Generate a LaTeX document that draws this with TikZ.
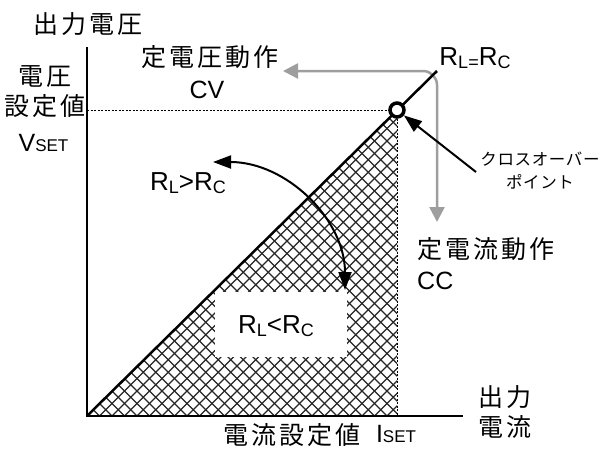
\documentclass[tikz,border=0pt]{standalone}
\usepackage{fontspec}
\setmainfont{Liberation Sans}
\newfontfamily\jpbig{Noto Sans CJK JP}[LetterSpace=12]
\newfontfamily\jpsmall{Noto Sans CJK JP}[LetterSpace=4]
\usetikzlibrary{arrows.meta}
\newcommand{\Rsb}[1]{R\raisebox{-3pt}{\fontsize{18}{18}\selectfont #1}}
\newcommand{\setlab}[1]{{\fontsize{25}{25}\selectfont #1}{\fontsize{17}{17}\selectfont SET}}
\begin{document}
\begin{tikzpicture}[x=1pt,y=-1pt,
  jpL/.style={font=\jpbig\fontsize{25}{30}\selectfont, inner sep=0pt, align=center},
  jpS/.style={font=\jpsmall\fontsize{16.5}{23}\selectfont, inner sep=0pt, align=center},
  lat/.style={font=\fontsize{25}{27}\selectfont, inner sep=0pt},
  latR/.style={font=\fontsize{26}{28}\selectfont, inner sep=0pt},
  hatch/.style={draw=black!85, line width=1.3pt},
  axis/.style={line width=2.5pt},
  guide/.style={line width=1pt, dash pattern=on 2pt off 1.5pt},
  graypath/.style={draw=black!38, line width=2.5pt, rounded corners=14pt, {Triangle[length=15pt,width=15pt]}-{Triangle[length=15pt,width=15pt]}},
  blk/.style={line width=2pt, -{Triangle[length=18pt,width=13pt]}},
  blk2/.style={line width=2pt, {Triangle[length=18pt,width=13pt]}-{Triangle[length=18pt,width=13pt]}}
]
\useasboundingbox (0,0) rectangle (599,448);
\coordinate (O) at (87,416);
\coordinate (Ytop) at (87,47);
\coordinate (Xend) at (463,416);
\coordinate (P) at (397,110);
\coordinate (Pbot) at (397,416);
\coordinate (Pleft) at (87,110);
\coordinate (Dtop) at (437,71);
\coordinate (CVtip) at (283,71);
\coordinate (CCtip) at (437,222);
\coordinate (ArcA) at (213,162);
\coordinate (ArcC) at (345,290);
\coordinate (Xs) at (476,172);
% hatch
\begin{scope}
\clip (O) -- (P) -- (Pbot) -- cycle;
\foreach \k in {-30,...,60} {
  \draw[hatch] (87+\k*12.5,416) -- ++(420,-420);
  \draw[hatch] (87+\k*12.5,416) -- ++(-420,-420);
}
\end{scope}
% white box
\node[fill=white, minimum width=132pt, minimum height=65pt, inner sep=0pt] (box) at (281,324.5) {};
\node[latR] (rlc) at (276,326) {\Rsb{L}<\Rsb{C}};
% guides
\draw[guide] (Pleft) -- (P) -- (Pbot);
% gray path
\draw[graypath] (CVtip) -| (CCtip);
% diagonal
\draw[line width=2.5pt] (O) -- (Dtop);
% axes
\draw[axis] (Ytop) -- (O) -- (Xend);
% crossover circle
\node[circle, draw=black, fill=white, line width=3.5pt, minimum size=14pt, inner sep=0pt] (cp) at (P) {};
% curved arrow
\draw[blk2] (ArcA) .. controls (286,162) and (345,219) .. (ArcC);
% labels
\node[jpL] (yl) at (88,24) {出力電圧};
\node[jpL] (cvj) at (210,57.5) {定電圧動作};
\node[lat] (cv) at (207,90) {CV};
\node[jpL] (vs) at (45,92) {電圧\\設定値};
\node[lat] (vset) at (43.5,142.5) {\setlab{V}};
\node[latR] (rgt) at (188,183) {\Rsb{L}>\Rsb{C}};
\node[latR] (req) at (475,58) {R\raisebox{-3pt}{\fontsize{18}{18}\selectfont L=}\Rsb{C}};
\node[jpS] (xo) at (540,171) {クロスオーバー\\ポイント};
\node[jpL, anchor=west] (ccj) at (417,249) {定電流動作};
\node[lat, anchor=west] (cc) at (417,281) {CC};
\node[jpL] (isj) at (292,435) {電流設定値};
\node[lat] (iset) at (396,434) {\setlab{I}};
\node[jpL] (xl) at (505,412) {出力\\電流};
% annotation arrow
\draw[blk] (Xs) -- (cp);
\end{tikzpicture}
\end{document}
